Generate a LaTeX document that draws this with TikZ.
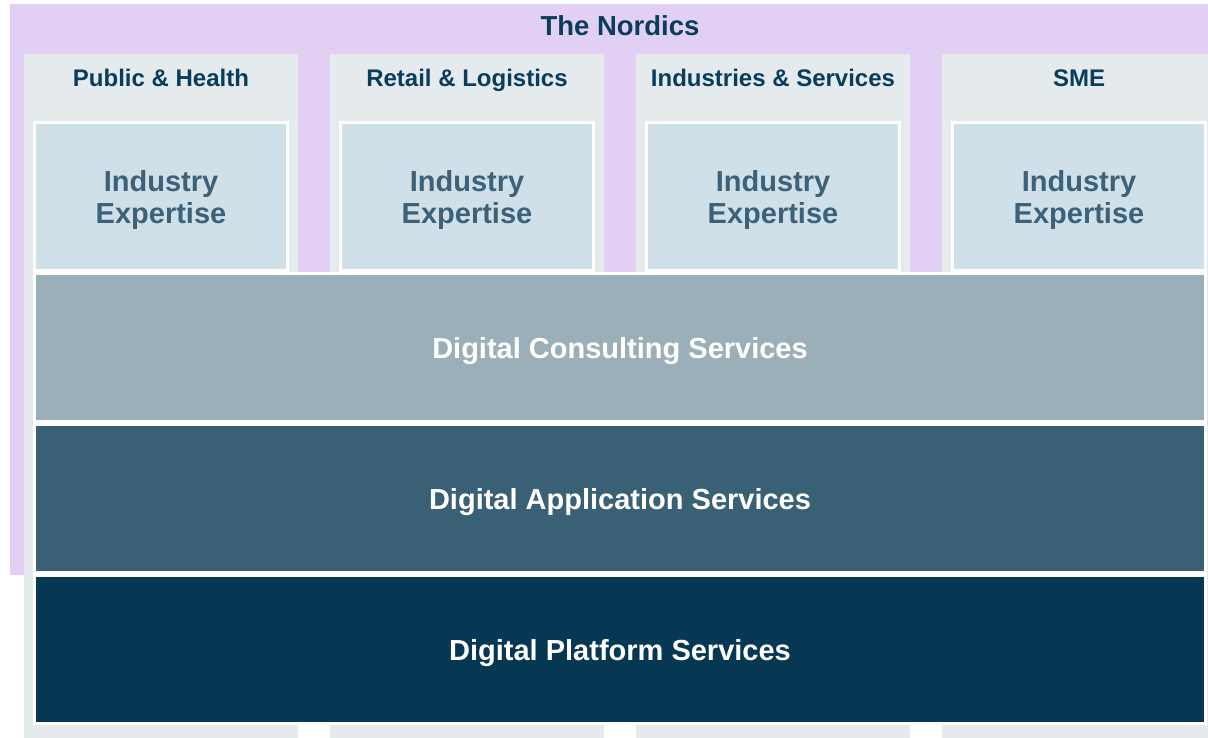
\documentclass[tikz,border=0pt]{standalone}
\usepackage{fontspec}
\setmainfont{Liberation Sans}
\usetikzlibrary{positioning}

\definecolor{lilac}{HTML}{E2D0F4}
\definecolor{mist}{HTML}{E5EAED}
\definecolor{paleblue}{HTML}{CFE0E8}
\definecolor{navy}{HTML}{0A3D5C}
\definecolor{slate}{HTML}{3C6178}
\definecolor{consultcol}{HTML}{9BAFB9}
\definecolor{appcol}{HTML}{396075}
\definecolor{platcol}{HTML}{063854}

\begin{document}
\begin{tikzpicture}[x=1pt, y=-1pt, node distance=0pt,
  region/.style={rectangle, fill=lilac, inner sep=0pt, minimum width=1230pt, minimum height=571pt},
  column/.style={rectangle, fill=mist, inner sep=0pt, minimum width=274pt, minimum height=700pt},
  head/.style={font=\fontsize{24}{28}\selectfont\bfseries, text=navy, anchor=base},
  expert/.style={rectangle, fill=paleblue, draw=white, line width=3pt, minimum width=253pt, minimum height=148pt,
    align=center, text=slate, font=\fontsize{29}{32}\selectfont\bfseries, text depth=0pt},
  band/.style={rectangle, draw=white, line width=3pt, minimum width=1171pt, minimum height=148pt,
    text=white, font=\fontsize{29}{32}\selectfont\bfseries, text height=21pt, text depth=0pt}]
\clip (0,0) rectangle (1208,737);

% region and its four segments
\node[region, anchor=north west] (nordics) at (10,4) {};
\node[head, font=\fontsize{27.5}{30}\selectfont\bfseries] (title) at (620,35.7) {The Nordics};
\node[column, anchor=north west] (colpub) at (24,54) {};
\node[column, anchor=north west] (colret) at (330,54) {};
\node[column, anchor=north west] (colind) at (636,54) {};
\node[column, anchor=north west] (colsme) at (942,54) {};
\node[head] (hpub) at (161,86) {Public \& Health};
\node[head] (hret) at (467,86) {Retail \& Logistics};
\node[head] (hind) at (773,86) {Industries \& Services};
\node[head] (hsme) at (1079,86) {SME};

% expertise per segment
\node[expert] (xpub) at (161,196.5) {Industry\\Expertise};
\node[expert] (xret) at (467,196.5) {Industry\\Expertise};
\node[expert] (xind) at (773,196.5) {Industry\\Expertise};
\node[expert] (xsme) at (1079,196.5) {Industry\\Expertise};

% service layers
\node[band, fill=consultcol] (consult) at (620,347.5) {Digital Consulting Services};
\node[band, fill=appcol, below=of consult] (app) {Digital Application Services};
\node[band, fill=platcol, below=of app] (plat) {Digital Platform Services};
\end{tikzpicture}
\end{document}
